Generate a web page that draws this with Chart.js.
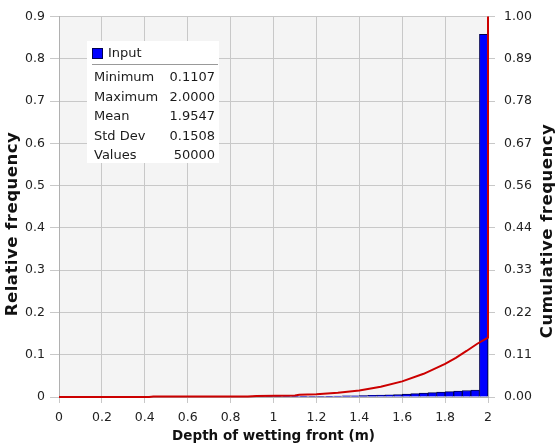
<!DOCTYPE html>
<html>
<head>
<meta charset="utf-8">
<title>Depth of wetting front</title>
<script src="https://cdn.jsdelivr.net/npm/chart.js@4.4.1/dist/chart.umd.min.js"></script>
<style>
  html, body { margin: 0; padding: 0; background: #fff; }
  #wrap { position: relative; width: 557px; height: 448px; }
  #stats {
    position: absolute; left: 87px; top: 41px; width: 132px; height: 122px;
    background: #fff; font-family: "DejaVu Sans"; font-size: 13px; color: #1a1a1a;
  }
  #stats .key { position: absolute; left: 5px; top: 7px; width: 9px; height: 9px; background: #0000ff; border: 1px solid #000050; }
  #stats .name { position: absolute; left: 21px; top: 3px; line-height: 18px; }
  #stats .sep { position: absolute; left: 5px; top: 23px; width: 126px; height: 1px; background: #999; }
  #stats table { position: absolute; left: 5px; top: 26px; width: 123px; border-collapse: collapse; }
  #stats td { padding: 0 0 0 2px; height: 19.5px; line-height: 19.5px; white-space: nowrap; }
  #stats td.v { text-align: right; padding: 0; }
</style>
</head>
<body>
<div id="wrap">
  <canvas id="mycanvas" width="557" height="448"></canvas>
  <div id="stats">
    <div class="key"></div><div class="name">Input</div>
    <div class="sep"></div>
    <table id="statTable"></table>
  </div>
</div>
<script>
// histogram bins (centres, width 0.04) and relative frequency per bin
var binCenters = [0.02, 0.06, 0.10, 0.14, 0.18, 0.22, 0.26, 0.30, 0.34, 0.38,
                  0.42, 0.46, 0.50, 0.54, 0.58, 0.62, 0.66, 0.70, 0.74, 0.78,
                  0.82, 0.86, 0.90, 0.94, 0.98, 1.02, 1.06, 1.10, 1.14, 1.18,
                  1.22, 1.26, 1.30, 1.34, 1.38, 1.42, 1.46, 1.50, 1.54, 1.58,
                  1.62, 1.66, 1.70, 1.74, 1.78, 1.82, 1.86, 1.90, 1.94, 1.98];
var relFreq = [0, 0, 0.00002, 0, 0, 0, 0, 0, 0, 0,
               0.001, 0.00005, 0.00005, 0.00005, 0.00005, 0.00005, 0.00005, 0.00005, 0.00005, 0.00005,
               0.00005, 0.00005, 0.0003, 0.0004, 0.0005, 0.0006, 0.0007, 0.0008, 0.0009, 0.001,
               0.0013, 0.0017, 0.0022, 0.0026, 0.003, 0.0033, 0.004, 0.0047, 0.0054, 0.006,
               0.0068, 0.0078, 0.009, 0.0102, 0.0115, 0.0128, 0.0141, 0.0153, 0.0165, 0.858];

// cumulative curve
var cumX = [0, 0.42, 0.44, 0.88, 0.92, 1.10, 1.12, 1.20, 1.30, 1.40, 1.50, 1.60, 1.70, 1.80, 1.85, 1.90, 1.95, 2.00, 2.00];
var cumY = [0, 0, 0.001, 0.0015, 0.0025, 0.004, 0.006, 0.007, 0.011, 0.017, 0.027, 0.041, 0.061, 0.087, 0.103, 0.121, 0.140, 0.156, 1.0];

var rightTickLabels = ['0.00', '0.11', '0.22', '0.33', '0.44', '0.56', '0.67', '0.78', '0.89', '1.00'];

var statNames = ['Minimum', 'Maximum', 'Mean', 'Std Dev', 'Values'];
var statValues = ['0.1107', '2.0000', '1.9547', '0.1508', '50000'];

var tbl = document.getElementById('statTable');
for (var i in statNames) {
  var tr = document.createElement('tr');
  tr.innerHTML = '<td>' + statNames[i] + '</td><td class="v">' + statValues[i] + '</td>';
  tbl.appendChild(tr);
}

Chart.defaults.font.family = '"DejaVu Sans"';
Chart.defaults.font.size = 12.5;
Chart.defaults.color = '#222';

var gridColor = '#c8c8c8';

function sideTitle(c, text, x, y) {
  c.save();
  c.font = 'bold 16.5px "DejaVu Sans"';
  c.fillStyle = '#111';
  c.textAlign = 'center';
  c.textBaseline = 'middle';
  c.letterSpacing = '0.5px';
  c.translate(x, y);
  c.rotate(-Math.PI / 2);
  c.fillText(text, 0, 0);
  c.restore();
}

var plotBg = {
  id: 'plotBg',
  beforeDraw: function(chart) {
    var a = chart.chartArea, c = chart.ctx;
    c.save();
    c.fillStyle = '#f4f4f4';
    c.fillRect(a.left, a.top, a.right - a.left, a.bottom - a.top);
    c.restore();
  },
  afterDraw: function(chart) {
    // both y titles read bottom-to-top
    sideTitle(chart.ctx, 'Relative frequency', 13, 224);
    sideTitle(chart.ctx, 'Cumulative frequency', 548, 231);
  }
};

var ctx = document.getElementById('mycanvas');

var chart = new Chart(ctx, {
  type: 'bar',
  data: {
    datasets: [
      {
        type: 'line',
        label: 'Cumulative',
        data: cumX.map(function(x, i) { return {x: x, y: cumY[i]}; }),
        yAxisID: 'y2',
        borderColor: '#cc0000',
        borderWidth: 2,
        pointRadius: 0,
        tension: 0,
        fill: false,
        clip: 3,
        order: 0
      },
      {
        type: 'bar',
        label: 'Input',
        data: binCenters.map(function(x, i) { return {x: x, y: relFreq[i]}; }),
        yAxisID: 'y',
        backgroundColor: '#0000ff',
        borderColor: '#000050',
        borderWidth: 1,
        barPercentage: 1,
        categoryPercentage: 1,
        order: 1
      }
    ]
  },
  options: {
    responsive: false,
    animation: false,
    layout: { padding: { top: 15, left: 0, right: 0, bottom: 0 } },
    plugins: { legend: { display: false }, tooltip: { enabled: false } },
    scales: {
      x: {
        type: 'linear',
        min: 0, max: 2,
        offset: false,
        grid: { color: gridColor, offset: false, tickLength: 6 },
        border: { color: '#b0b0b0' },
        ticks: {
          stepSize: 0.2, padding: 7, maxRotation: 0,
          callback: function(v) { return String(+v.toFixed(1)); }
        },
        title: { display: true, text: 'Depth of wetting front (m)', color: '#111',
                 font: { size: 13.5, weight: 'bold' }, padding: { top: 0, bottom: 3 } },
        afterFit: function(s) { s.height = 51; }
      },
      y: {
        position: 'left',
        min: 0, max: 0.9,
        grid: { color: gridColor, tickLength: 9 },
        border: { color: '#b0b0b0' },
        ticks: { stepSize: 0.1, padding: 5 },
        afterFit: function(s) { s.width = 59; }
      },
      y2: {
        position: 'right',
        min: 0, max: 1,
        grid: { color: gridColor, drawOnChartArea: false, tickLength: 7 },
        border: { color: '#b0b0b0' },
        afterBuildTicks: function(s) {
          s.ticks = rightTickLabels.map(function(t, i) { return {value: i / 9}; });
        },
        ticks: {
          padding: 9,
          callback: function(v, i) { return rightTickLabels[i]; }
        },
        afterFit: function(s) { s.width = 69; }
      }
    }
  },
  plugins: [plotBg]
});
</script>
</body>
</html>
